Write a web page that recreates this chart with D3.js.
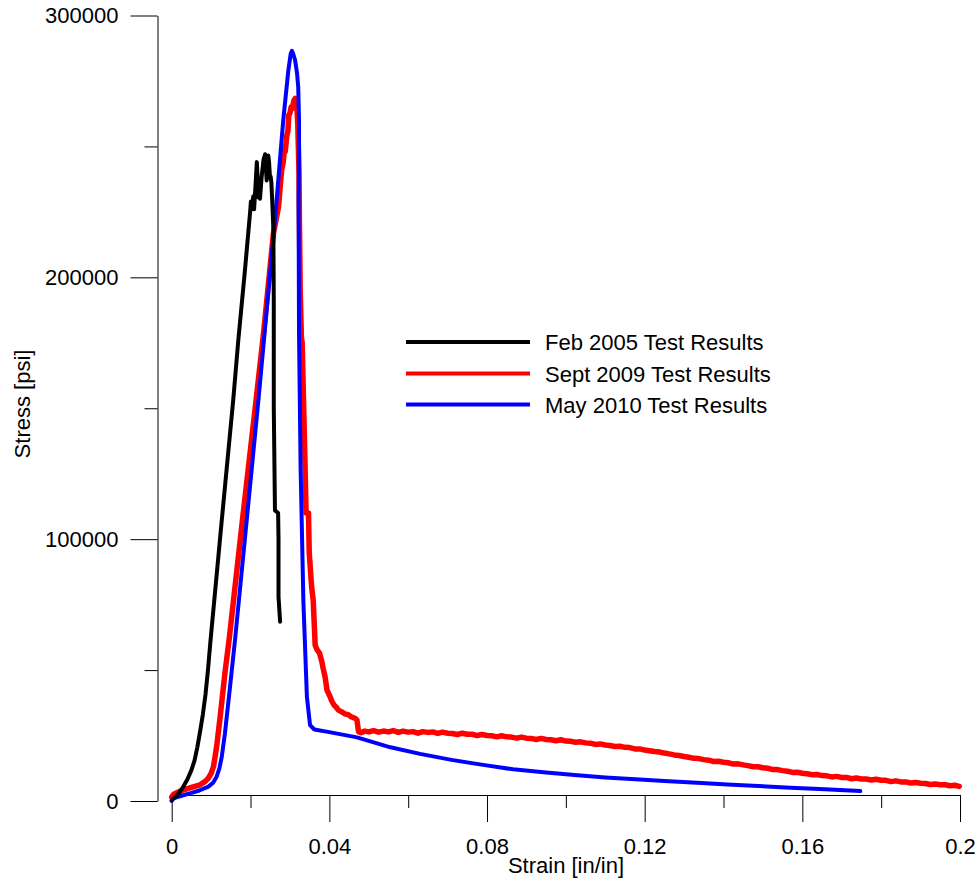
<!DOCTYPE html>
<html>
<head>
<meta charset="utf-8">
<script src="https://cdn.jsdelivr.net/npm/d3@7"></script>
<style>
  html, body { margin: 0; padding: 0; background: #fff; }
  svg { display: block; font-family: "Liberation Sans", Arial, sans-serif; }
</style>
</head>
<body>
<svg id="chart" width="980" height="886"></svg>
<script>
// Tensile test curves: stress [psi] against strain [in/in]
const seriesNames = ["Feb 2005 Test Results", "Sept 2009 Test Results", "May 2010 Test Results"];
const seriesColors = ["#000000", "#ff0000", "#0000ff"];

const xMajorTicks = [0, 0.04, 0.08, 0.12, 0.16, 0.2];
const xMinorTicks = [0.02, 0.06, 0.1, 0.14, 0.18];
const yMajorTicks = [0, 100000, 200000, 300000];
const yMinorTicks = [50000, 150000, 250000];

// [strain, stress]
const feb2005 = [
  [0, 300], [0.0010, 1600], [0.0020, 3400], [0.0030, 5600], [0.0040, 8300],
  [0.0050, 11800], [0.0058, 15500], [0.0065, 20500], [0.0072, 26500],
  [0.0079, 33000], [0.0086, 41000], [0.0092, 50000], [0.0098, 60500],
  [0.0125, 104000], [0.0156, 153000], [0.0169, 176000], [0.0186, 203000],
  [0.0199, 225000], [0.0201, 229000], [0.0203, 226500], [0.0207, 231000],
  [0.0209, 226000], [0.0213, 236000], [0.0216, 244000], [0.0218, 238000],
  [0.0220, 230500], [0.0222, 233000], [0.0224, 230000], [0.0228, 238000],
  [0.0233, 245000], [0.0237, 247000], [0.0239, 242000], [0.0241, 237000],
  [0.0243, 243000], [0.0245, 246500], [0.0247, 244000], [0.0249, 239000],
  [0.0251, 238500], [0.0253, 236000], [0.0256, 226000], [0.0258, 218000],
  [0.0259, 190000], [0.0259, 150000], [0.0262, 111000], [0.0270, 110000],
  [0.0271, 100000], [0.0271, 78000], [0.0275, 68500]
];

const sept2009 = [
  [0, 1500], [0.0005, 2600], [0.0015, 3300], [0.0029, 4200], [0.0050, 5200],
  [0.0072, 6200], [0.0085, 7500], [0.0093, 8700], [0.0100, 10500],
  [0.0106, 13100], [0.0114, 20700], [0.0123, 32200], [0.0135, 48800],
  [0.0141, 56000], [0.0146, 62000], [0.0180, 108000], [0.0214, 153000],
  [0.0233, 178600], [0.0258, 216700], [0.0271, 226900], [0.0276, 236000],
  [0.0279, 240900], [0.0283, 244000], [0.0286, 249000], [0.0288, 248000],
  [0.0292, 254000], [0.0295, 256000], [0.0297, 262000], [0.0300, 262700],
  [0.0303, 265000], [0.0306, 264500], [0.0310, 267500], [0.0313, 268300],
  [0.0317, 267000], [0.0320, 258000], [0.0323, 240000], [0.0324, 221800],
  [0.0326, 195000], [0.0329, 177300], [0.0331, 175000], [0.0334, 155700],
  [0.0338, 130000], [0.0341, 110000], [0.0347, 110000], [0.0349, 94700],
  [0.0355, 81800], [0.0359, 76700], [0.0364, 59500], [0.0369, 57700],
  [0.0375, 56500], [0.0381, 53200], [0.0384, 50800], [0.0389, 47500],
  [0.0394, 42400], [0.0402, 39800], [0.0406, 38200], [0.0412, 36600],
  [0.0417, 35900], [0.0423, 34700], [0.0432, 34000], [0.0440, 33200],
  [0.0448, 33000], [0.0455, 32200], [0.0465, 31600], [0.0470, 30900],
  [0.0474, 26500], [0.0480, 26100], [0.0490, 26700], [0.0500, 26400],
  [0.0512, 26900], [0.0525, 26300], [0.0537, 26700], [0.0550, 26400],
  [0.0562, 26900], [0.0575, 26200], [0.0587, 26700], [0.0600, 26300],
  [0.0612, 26500], [0.0625, 25900], [0.0637, 26500], [0.0650, 26200],
  [0.0662, 26400], [0.0675, 25800], [0.0687, 26300], [0.0700, 25900],
  [0.0712, 25800], [0.0725, 25400], [0.0737, 25900], [0.0750, 25500],
  [0.0762, 25500], [0.0775, 25000], [0.0787, 25400], [0.0800, 25000],
  [0.0812, 24900], [0.0825, 24500], [0.0837, 24900], [0.0850, 24500],
  [0.0862, 24400], [0.0875, 24000], [0.0887, 24400], [0.0900, 24000],
  [0.0912, 23900], [0.0925, 23500], [0.0937, 23900], [0.0950, 23500],
  [0.0962, 23400], [0.0975, 23000], [0.0987, 23400], [0.1000, 22900],
  [0.1012, 22800], [0.1025, 22400], [0.1037, 22600], [0.1050, 22200],
  [0.1062, 22100], [0.1075, 21600], [0.1087, 21800], [0.1100, 21400],
  [0.1112, 21200], [0.1125, 20800], [0.1137, 20900], [0.1150, 20500],
  [0.1162, 20400], [0.1175, 19900], [0.1187, 19900], [0.1200, 19500],
  [0.1212, 19200], [0.1225, 18900], [0.1237, 18700], [0.1250, 18300],
  [0.1262, 18000], [0.1275, 17600], [0.1287, 17400], [0.1300, 17000],
  [0.1312, 16700], [0.1325, 16300], [0.1337, 16200], [0.1350, 15800],
  [0.1362, 15600], [0.1375, 15100], [0.1387, 15200], [0.1400, 14800],
  [0.1412, 14600], [0.1425, 14100], [0.1437, 14200], [0.1450, 13800],
  [0.1462, 13500], [0.1475, 13100], [0.1487, 13100], [0.1500, 12700],
  [0.1512, 12500], [0.1525, 12000], [0.1537, 12000], [0.1550, 11600],
  [0.1562, 11400], [0.1575, 10900], [0.1587, 11000], [0.1600, 10600],
  [0.1612, 10400], [0.1625, 10000], [0.1637, 10100], [0.1650, 9700],
  [0.1662, 9600], [0.1675, 9200], [0.1687, 9400], [0.1700, 9000],
  [0.1712, 9000], [0.1725, 8500], [0.1737, 8800], [0.1750, 8400],
  [0.1762, 8400], [0.1775, 8000], [0.1787, 8300], [0.1800, 7900],
  [0.1812, 7900], [0.1825, 7400], [0.1837, 7700], [0.1850, 7300],
  [0.1862, 7300], [0.1875, 6900], [0.1887, 7100], [0.1900, 6800],
  [0.1912, 6700], [0.1925, 6300], [0.1937, 6500], [0.1950, 6200],
  [0.1962, 6200], [0.1975, 5800], [0.1987, 6000], [0.1998, 5600]
];

const may2010 = [
  [0, 0], [0.0004, 1000], [0.0025, 2000], [0.0046, 2900], [0.0070, 4000],
  [0.0093, 5500], [0.0105, 7000], [0.0114, 9300], [0.0121, 12500],
  [0.0127, 16900], [0.0135, 25800], [0.0148, 43600], [0.0161, 62000],
  [0.0220, 153100], [0.0262, 221800], [0.0283, 260000], [0.0296, 279100],
  [0.0302, 285500], [0.0305, 286500], [0.0309, 285000], [0.0313, 283000],
  [0.0318, 278000], [0.0321, 272700], [0.0323, 260000], [0.0323, 247400],
  [0.0322, 229000], [0.0323, 178600], [0.0327, 127600], [0.0334, 76700],
  [0.0343, 39800], [0.0351, 29000], [0.0362, 27300], [0.0400, 26300],
  [0.0470, 24300], [0.0555, 20500], [0.0630, 18000], [0.0710, 15700],
  [0.0790, 13800], [0.0866, 12100], [0.0950, 10900], [0.1022, 9900],
  [0.1100, 9000], [0.1177, 8300], [0.1250, 7600], [0.1333, 7000],
  [0.1410, 6300], [0.1488, 5700], [0.1570, 5100], [0.1644, 4600],
  [0.1747, 3800]
];

const svg = d3.select("#chart");

const x = d3.scaleLinear().domain([0, 0.2]).range([171.7, 960]);
const y = d3.scaleLinear().domain([0, 300000]).range([801, 15.5]);

const fmtX = d => d === 0 ? "0" : String(+d.toFixed(2));
const labelSize = 22;

// X axis (offset slightly above the zero line)
const xAxisY = 795;
svg.append("g")
  .attr("transform", `translate(0,${xAxisY})`)
  .call(d3.axisBottom(x).tickValues(xMajorTicks).tickSize(27).tickSizeOuter(0).tickPadding(16).tickFormat(fmtX))
  .call(g => g.selectAll("text").attr("font-size", labelSize).attr("fill", "#000").attr("font-family", null))
  .call(g => g.selectAll("line, path").attr("stroke", "#000"));
svg.append("g")
  .attr("transform", `translate(0,${xAxisY})`)
  .call(d3.axisBottom(x).tickValues(xMinorTicks).tickSize(13).tickFormat(""))
  .call(g => g.select(".domain").remove())
  .call(g => g.selectAll("line").attr("stroke", "#000"));

// Y axis
const yAxisX = 157.5;
svg.append("g")
  .attr("transform", `translate(${yAxisX},0)`)
  .call(d3.axisLeft(y).tickValues(yMajorTicks).tickSize(27).tickSizeOuter(0).tickPadding(12).tickFormat(d3.format("d")))
  .call(g => g.selectAll("text").attr("font-size", labelSize).attr("fill", "#000").attr("font-family", null))
  .call(g => g.selectAll("line, path").attr("stroke", "#000"));
svg.append("g")
  .attr("transform", `translate(${yAxisX},0)`)
  .call(d3.axisLeft(y).tickValues(yMinorTicks).tickSize(13).tickFormat(""))
  .call(g => g.select(".domain").remove())
  .call(g => g.selectAll("line").attr("stroke", "#000"));

// Axis titles
svg.append("text")
  .attr("x", 566).attr("y", 873)
  .attr("text-anchor", "middle").attr("font-size", labelSize)
  .text("Strain [in/in]");
svg.append("text")
  .attr("transform", "translate(30,404) rotate(-90)")
  .attr("text-anchor", "middle").attr("font-size", labelSize)
  .text("Stress [psi]");

// Curves
const line = d3.line().x(d => x(d[0])).y(d => y(d[1]));
const curves = [
  { data: sept2009, color: seriesColors[1], width: 5.5 },
  { data: may2010, color: seriesColors[2], width: 4 },
  { data: feb2005, color: seriesColors[0], width: 4 }
];
svg.append("g").selectAll("path")
  .data(curves)
  .join("path")
  .attr("d", d => line(d.data))
  .attr("fill", "none")
  .attr("stroke", d => d.color)
  .attr("stroke-width", d => d.width)
  .attr("stroke-linejoin", "round")
  .attr("stroke-linecap", "round");

// Legend
const legendY = [342, 373.5, 404.5];
const legend = svg.append("g");
seriesNames.forEach((name, i) => {
  legend.append("line")
    .attr("x1", 406).attr("x2", 530)
    .attr("y1", legendY[i]).attr("y2", legendY[i])
    .attr("stroke", seriesColors[i]).attr("stroke-width", 4);
  legend.append("text")
    .attr("x", 545).attr("y", legendY[i] + 8)
    .attr("font-size", labelSize)
    .text(name);
});
</script>
</body>
</html>
